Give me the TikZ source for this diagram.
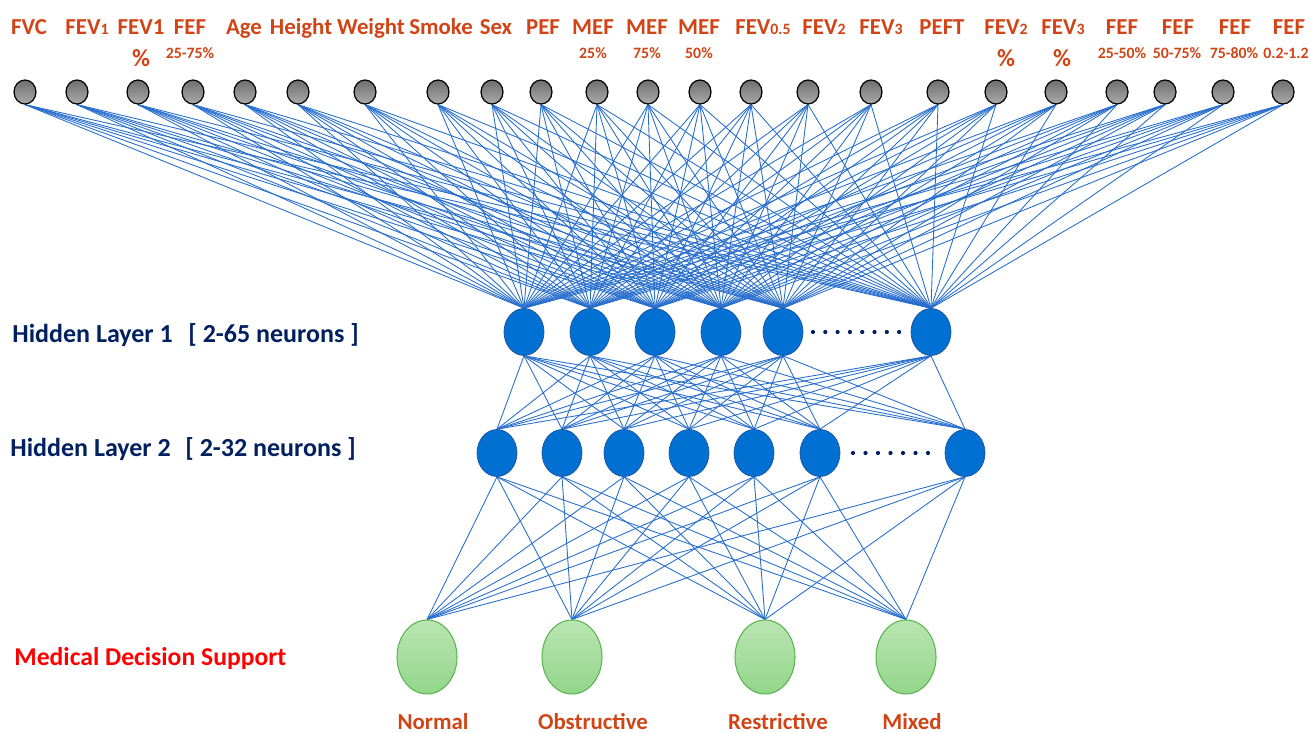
\documentclass[tikz,border=0pt]{standalone}
\usepackage{fontspec}
\setmainfont{Carlito}
\usetikzlibrary{shapes.geometric,positioning,backgrounds}
\definecolor{inlabel}{RGB}{208,68,22}
\definecolor{navy}{RGB}{0,32,96}
\definecolor{wire}{RGB}{40,110,205}
\definecolor{neuron}{RGB}{0,112,210}
\definecolor{outgreen}{RGB}{90,180,80}
\newcommand{\lowsub}[1]{{\fontsize{9}{9}\selectfont #1}}

\begin{document}
\begin{tikzpicture}[x=0.02cm, y=-0.02cm,
    innode/.style={ellipse, draw=black, line width=0.7pt, minimum width=0.44cm, minimum height=0.48cm,
        inner sep=0, top color={rgb,255:red,110;green,110;blue,110}, bottom color={rgb,255:red,170;green,170;blue,170}},
    hidden/.style={ellipse, draw={rgb,255:red,30;green,80;blue,160}, fill=neuron, minimum width=0.8cm,
        minimum height=0.94cm, inner sep=0},
    outnode/.style={ellipse, draw=outgreen, line width=0.6pt, minimum width=1.2cm, minimum height=1.48cm, inner sep=0,
        top color={rgb,255:red,186;green,229;blue,178}, bottom color={rgb,255:red,146;green,214;blue,138}},
    toplabel/.style={font=\fontsize{13}{13}\selectfont\bfseries, text=inlabel, inner sep=0, anchor=base},
    sublabel/.style={font=\fontsize{9}{9}\selectfont\bfseries, text=inlabel, inner sep=0, anchor=base},
    pctlabel/.style={font=\fontsize{14}{14}\selectfont\bfseries, text=inlabel, inner sep=0, anchor=base},
    layerlabel/.style={font=\fontsize{14.8}{14.8}\selectfont\bfseries, text=navy, inner sep=0},
    wire/.style={draw=wire, line width=0.5pt}]

\useasboundingbox (0,0) rectangle (1311,733);

% input labels
\foreach \x/\t [count=\i] in {29/FVC, 87/FEV\lowsub{1}, 141/FEV1, 190/FEF, 244/Age, 301/Height, 371/Weight,
    441/Smoke, 496/Sex, 543/PEF, 593/MEF, 647/MEF, 699/MEF, 763/FEV\lowsub{0.5}, 824/FEV\lowsub{2},
    881/FEV\lowsub{3}, 942/PEFT, 1006/FEV\lowsub{2}, 1063/FEV\lowsub{3}, 1122/FEF, 1178/FEF, 1235/FEF, 1289/FEF}
    \node[toplabel] (lab\i) at (\x,35) {\t};
\foreach \x [count=\i] in {141,1006,1062}
    \node[pctlabel] (pct\i) at (\x,67) {\%};
\foreach \x/\t [count=\i] in {190/25-75\%, 593/25\%, 647/75\%, 699/50\%, 1122/25-50\%, 1177/50-75\%,
    1234/75-80\%, 1286/0.2-1.2}
    \node[sublabel] (sub\i) at (\x,59) {\t};

% layers
\foreach \x [count=\i] in {25,77,138,193,245,298,365,438,492,541,597,648,700,751,808,871,938,996,1056,1117,1165,1223,1283}
    \node[innode] (in\i) at (\x,92) {};
\foreach \x [count=\j] in {524,590,655,721,783,931}
    \node[hidden] (a\j) at (\x,332) {};
\foreach \x [count=\j] in {497,562,624,689,754,820,965}
    \node[hidden] (b\j) at (\x,453) {};
\foreach \x [count=\k] in {427,572,765,906}
    \node[outnode] (out\k) at (\x,657) {};

\foreach \k in {0,...,7} \fill[navy] (813+\k*12.3,332) circle[radius=1.2pt];
\foreach \k in {0,...,6} \fill[navy] (853+\k*12.5,453) circle[radius=1.2pt];

% connections
\begin{scope}[on background layer]
\foreach \i in {1,...,23} \foreach \j in {1,...,6} \draw[wire] (in\i.south) -- (a\j.north);
\foreach \i in {1,...,6} \foreach \j in {1,...,7} \draw[wire] (a\i.south) -- (b\j.north);
\foreach \i in {1,...,7} \foreach \k in {1,...,4} \draw[wire] (b\i.south) -- (out\k.north);
\end{scope}

% side labels
\node[layerlabel, anchor=base west] (hl1) at (12,342) {Hidden Layer 1};
\node[layerlabel, base right=0.3cm of hl1] (hn1) {[ 2-65 neurons ]};
\node[layerlabel, anchor=base west] (hl2) at (10,456) {Hidden Layer 2};
\node[layerlabel, base right=0.28cm of hl2] (hn2) {[ 2-32 neurons ]};
\node[layerlabel, text=red, font=\fontsize{14.6}{14.6}\selectfont\bfseries, anchor=base west] (mds) at (14,665) {Medical Decision Support};

% outputs
\foreach \x/\t [count=\k] in {433/Normal, 593/Obstructive, 778/Restrictive, 912/Mixed}
    \node[toplabel] (ol\k) at (\x,729) {\t};

\end{tikzpicture}
\end{document}
